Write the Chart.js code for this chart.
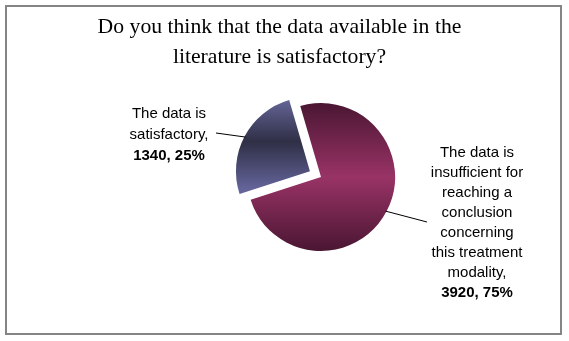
<!DOCTYPE html>
<html>
<head>
<meta charset="utf-8">
<script src="https://cdn.jsdelivr.net/npm/chart.js@4.4.1/dist/chart.umd.min.js"></script>
<style>
html, body { margin: 0; padding: 0; background: #fff; }
</style>
</head>
<body>
<canvas id="canvasPie" width="569" height="341"></canvas>
<script>
// datos del grafico
var titleLines = ['Do you think that the data available in the', 'literature is satisfactory?'];
var categories = [
	['The data is', 'satisfactory'],
	['The data is', 'insufficient for', 'reaching a', 'conclusion', 'concerning', 'this treatment', 'modality']
];
var values = [1340, 3920];

var pieRadius = 74;

// degradado vertical de cada porcion
function sliceFill(context){
	var chart = context.chart;
	var area = chart.chartArea;
	if(!area){
		return context.dataIndex == 0 ? '#4b4b70' : '#7a2850';
	}
	var c = chart.ctx;
	var cy = (area.top + area.bottom) / 2;
	var g;
	if(context.dataIndex == 0){
		g = c.createLinearGradient(0, cy - pieRadius - 3, 0, cy + 18);
		g.addColorStop(0, '#6c6ca2');
		g.addColorStop(0.5, '#2f2f46');
		g.addColorStop(1, '#64649a');
	} else {
		g = c.createLinearGradient(0, cy - pieRadius, 0, cy + pieRadius);
		g.addColorStop(0, '#4a1632');
		g.addColorStop(0.5, '#993366');
		g.addColorStop(1, '#4a1632');
	}
	return g;
}

// titulo, marco y etiquetas
var decoPlugin = {
	id: 'deco',
	beforeDraw: function(chart){
		var c = chart.ctx;
		c.save();
		c.fillStyle = '#fff';
		c.fillRect(0, 0, chart.width, chart.height);
		c.strokeStyle = '#858585';
		c.lineWidth = 2;
		c.strokeRect(6, 6, 555, 328);
		c.fillStyle = '#000';
		c.font = '21.7px "Liberation Serif"';
		c.textAlign = 'center';
		c.textBaseline = 'middle';
		titleLines.forEach(function(t, i){
			c.fillText(t, 279.5, 27.5 + i * 30);
		});
		c.restore();
	},
	afterDatasetsDraw: function(chart){
		var c = chart.ctx;
		var meta = chart.getDatasetMeta(0);
		var total = values.reduce(function(a, b){ return a + b; }, 0);
		var boxes = [
			{x: 169, y: 113.5, lh: 21, lineTo: [216, 133]},
			{x: 477, y: 153, lh: 20, lineTo: [427, 222]}
		];
		c.save();
		meta.data.forEach(function(arc, i){
			var p = arc.getProps(['x', 'y', 'startAngle', 'endAngle', 'outerRadius'], true);
			var off = (arc.options.offset || 0) / 4;
			var mid = (p.startAngle + p.endAngle) / 2;
			var sx = p.x + Math.cos(mid) * (p.outerRadius - 1 + off);
			var sy = p.y + Math.sin(mid) * (p.outerRadius - 1 + off);
			var b = boxes[i];
			c.strokeStyle = '#000';
			c.lineWidth = 1;
			c.beginPath();
			c.moveTo(sx, sy);
			c.lineTo(b.lineTo[0], b.lineTo[1]);
			c.stroke();

			var lines = categories[i].slice();
			lines[lines.length - 1] += ',';
			c.fillStyle = '#000';
			c.textAlign = 'center';
			c.textBaseline = 'middle';
			c.font = '15px "Liberation Sans"';
			lines.forEach(function(t, j){
				c.fillText(t, b.x, b.y + j * b.lh);
			});
			var pct = Math.round(values[i] / total * 100);
			c.font = 'bold 15px "Liberation Sans"';
			c.fillText(values[i] + ', ' + pct + '%', b.x, b.y + lines.length * b.lh);
		});
		c.restore();
	}
};

var ctx = document.getElementById('canvasPie').getContext('2d');
window.myPie = new Chart(ctx, {
	type: 'pie',
	data: {
		labels: categories.map(function(l){ return l.join(' '); }),
		datasets: [{
			data: values,
			backgroundColor: sliceFill,
			borderWidth: 0,
			offset: [50, 0],
			hoverOffset: 0
		}]
	},
	options: {
		responsive: false,
		animation: false,
		events: [],
		rotation: 252,
		radius: pieRadius,
		layout: {
			padding: {left: 100, right: 27, top: 80, bottom: 67}
		},
		plugins: {
			legend: { display: false },
			title: { display: false },
			tooltip: { enabled: false }
		}
	},
	plugins: [decoPlugin]
});
</script>
</body>
</html>
